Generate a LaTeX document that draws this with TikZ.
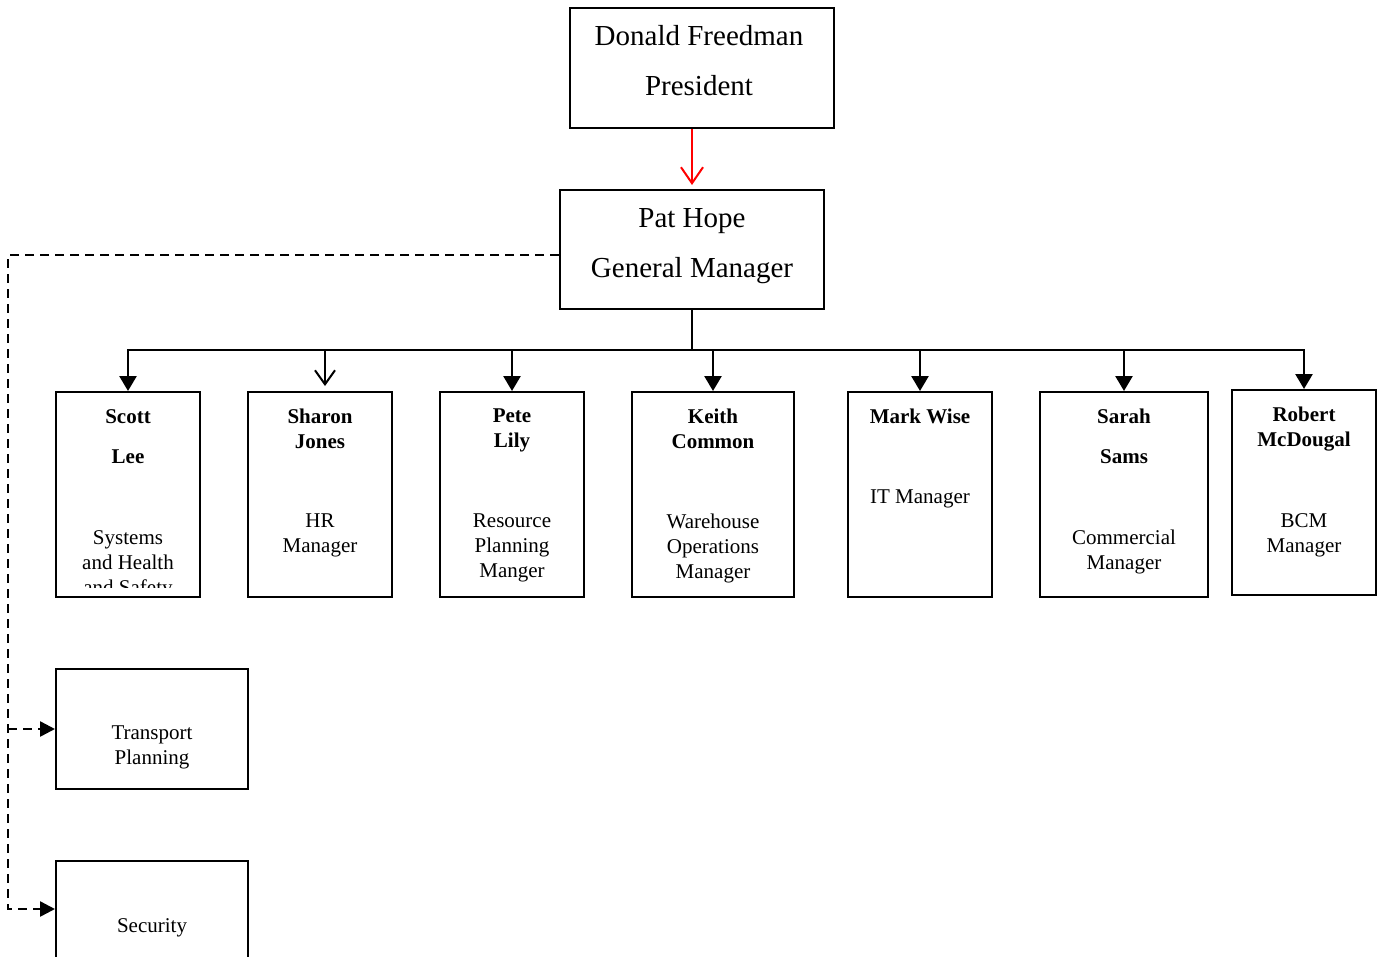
\documentclass[tikz,border=0pt]{standalone}
\usepackage{fontspec}
\setmainfont{Liberation Serif}
\usetikzlibrary{positioning, arrows.meta}

\begin{document}
\begin{tikzpicture}[x=1pt, y=-1pt]
	% Define styles
	\tikzset{
		block/.style={rectangle, draw, line width=2pt, inner sep=0pt},
		big/.style={font=\fontsize{29}{50}\selectfont, align=center, anchor=north, inner sep=0pt},
		who/.style={font=\fontsize{21}{25}\selectfont\bfseries, align=center, anchor=north, inner sep=0pt},
		role/.style={font=\fontsize{21}{25}\selectfont, align=center, anchor=north, inner sep=0pt},
		line/.style={draw, line width=2.6pt, -{Triangle[length=15pt, width=17pt]}},
		openline/.style={draw, line width=2pt, -{Straight Barb[length=14pt, width=20pt]}},
		redline/.style={draw, red, line width=2pt, -{Straight Barb[length=16pt, width=22pt]}},
		dashline/.style={draw, line width=2.5pt, dash pattern=on 9pt off 6pt, -{Triangle[length=15pt, width=15pt]}}
	}
	\clip (0,0) rectangle (1381,956);
	
	% Top boxes
	\node[block, minimum width=264pt, minimum height=120pt] (pres) at (702,68) {};
	\node[block, minimum width=264pt, minimum height=119pt] (gm) at (692,249.5) {};
	\node[big] at (699,25) {Donald Freedman\\President};
	\node[big] at (692,208) {Pat Hope\\General Manager};
	
	% Managers
	\node[block, minimum width=144pt, minimum height=205pt] (scott) at (128,494.5) {};
	\node[block, minimum width=144pt, minimum height=205pt] (sharon) at (320,494.5) {};
	\node[block, minimum width=144pt, minimum height=205pt] (pete) at (512,494.5) {};
	\node[block, minimum width=162pt, minimum height=205pt] (keith) at (713,494.5) {};
	\node[block, minimum width=144pt, minimum height=205pt] (mark) at (920,494.5) {};
	\node[block, minimum width=168pt, minimum height=205pt] (sarah) at (1124,494.5) {};
	\node[block, minimum width=144pt, minimum height=205pt] (robert) at (1304,492.5) {};
	
	\node[who] at (128,409) {Scott\\[15pt]Lee};
	\begin{scope}
		\clip (scott.north west) rectangle ([yshift=11pt]scott.south east);
		\node[role] at (128,530) {Systems\\and Health\\and Safety};
	\end{scope}
	\node[who] at (320,409) {Sharon\\Jones};
	\node[role] at (320,514) {HR\\Manager};
	\node[who] at (512,409) {Pete\\Lily};
	\node[role] at (512,514) {Resource\\Planning\\Manger};
	\node[who] at (713,409) {Keith\\Common};
	\node[role] at (713,514) {Warehouse\\Operations\\Manager};
	\node[who] at (920,409) {Mark Wise};
	\node[role] at (920,490) {IT Manager};
	\node[who] at (1124,409) {Sarah\\[15pt]Sams};
	\node[role] at (1124,530) {Commercial\\Manager};
	\node[who] at (1304,407) {Robert\\McDougal};
	\node[role] at (1304,513) {BCM\\Manager};
	
	% Side boxes
	\node[block, minimum width=192pt, minimum height=120pt] (transport) at (152,729) {};
	\node[block, minimum width=192pt, minimum height=124pt] (security) at (152,923) {};
	\node[role] at (152,726) {Transport\\Planning};
	\node[role] at (152,918) {Security};
	
	% Arrows
	\path[redline, shorten >=4pt] (pres.south -| gm.north) -- (gm.north);
	
	\coordinate (bus) at (692,350);
	\draw[line width=2.6pt] (gm.south) -- (bus);
	\path[line] (bus) -| (scott.north);
	\path[openline, shorten >=5pt] (bus) -| ([xshift=5pt]sharon.north);
	\path[line] (bus) -| (pete.north);
	\path[line] (bus) -| (keith.north);
	\path[line] (bus) -| (mark.north);
	\path[line] (bus) -| (sarah.north);
	\path[line] (bus) -| (robert.north);
	
	\coordinate (trunk) at (8,909);
	\path[dashline] ([yshift=-5.5pt]gm.west) -| (trunk) -- (security.west |- trunk);
	\path[dashline] (transport.west -| trunk) -- (transport.west);
\end{tikzpicture}
\end{document}
